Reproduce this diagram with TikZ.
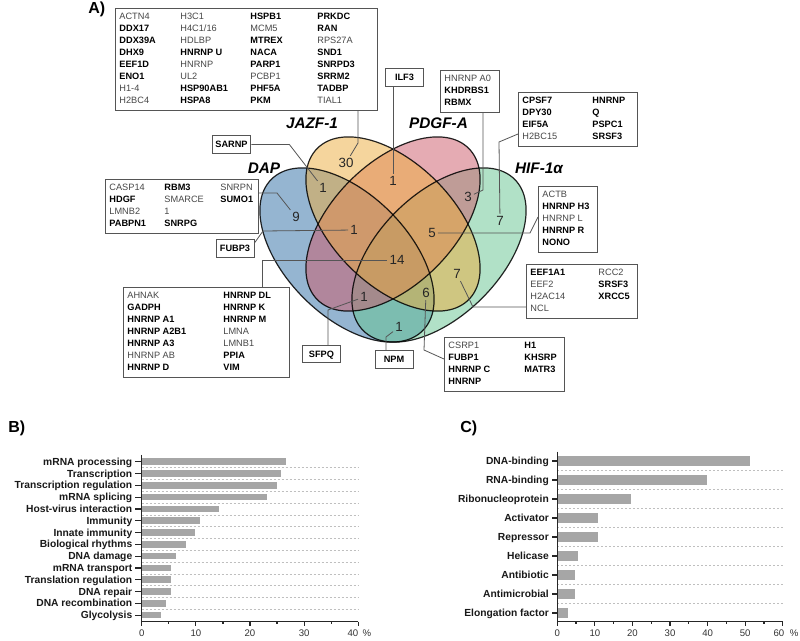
\documentclass[tikz,border=0pt]{standalone}
\usepackage{fontspec}
\setmainfont{Liberation Sans}
\usetikzlibrary{calc}

\definecolor{dapblue}{RGB}{45,109,165}
\definecolor{hifgreen}{RGB}{101,197,145}
\definecolor{pdgfpink}{RGB}{205,89,105}
\definecolor{jazfyel}{RGB}{237,173,61}
\definecolor{boxgray}{RGB}{85,85,85}

\newcommand{\genefont}{\fontsize{6.9}{9}\selectfont}
\newcommand{\hit}[1]{\textbf{\color{black}#1}}
\setlength{\tabcolsep}{0pt}

\tikzset{
    genes/.style =    {rectangle,
                      fill=white,
                      draw=boxgray,
                      text=black!72,
                      line width=0.7pt,
                      font=\genefont,
                      anchor=north west,
                      inner xsep=3pt,
                      inner ysep=2.2pt},
    tag/.style =      {rectangle,
                      fill=white,
                      draw=boxgray,
                      text=black,
                      line width=0.7pt,
                      font=\genefont\bfseries,
                      minimum width=28.5pt,
                      minimum height=13pt,
                      inner xsep=2.5pt,
                      text height=5pt,
                      text depth=0pt},
    num/.style =      {text=black!85,
                      font=\fontsize{10}{12}\selectfont,
                      inner sep=1.5pt,
                      text height=7.2pt,
                      text depth=0pt},
    setname/.style =  {font=\fontsize{11.5}{13}\selectfont\bfseries\itshape,
                      anchor=base,
                      inner sep=0pt},
    panel/.style =    {font=\fontsize{12}{14}\selectfont\bfseries,
                      anchor=base west,
                      inner sep=0pt},
    -,
    lead/.style =     {draw=boxgray, line width=0.6pt},
    ring/.style =     {draw=black, line width=0.9pt, draw opacity=0.85},
    setfill/.style =  {fill opacity=0.5},
    barfill/.style =  {fill=black!35},
    term/.style =     {font=\fontsize{7.7}{9}\selectfont\bfseries,
                      text=black!90,
                      anchor=east,
                      inner sep=0pt,
                      text height=5.5pt,
                      text depth=0pt},
    ticklabel/.style = {font=\fontsize{7.2}{9}\selectfont,
                      text=black!80,
                      inner sep=0pt,
                      text height=5.2pt,
                      text depth=0pt},
    gridline/.style = {draw=black!25, dash pattern=on 1.5pt off 1.5pt, line width=0.4pt},
    axisline/.style = {draw=black!85, line width=0.9pt}}

\begin{document}
\begin{tikzpicture}[x=0.75pt,y=-0.75pt]
    \path[use as bounding box, fill=white] (0,0) rectangle (800,640);

    % four sets
    \fill[setfill, dapblue,  rotate around={-45:(347,255)}] (347,255) ellipse [x radius=80.25pt, y radius=45.75pt];
    \fill[setfill, hifgreen, rotate around={45:(439,255)}]  (439,255) ellipse [x radius=80.25pt, y radius=45.75pt];
    \fill[setfill, pdgfpink, rotate around={45:(393,224)}]  (393,224) ellipse [x radius=80.25pt, y radius=45.75pt];
    \fill[setfill, jazfyel,  rotate around={-45:(393,224)}] (393,224) ellipse [x radius=80.25pt, y radius=45.75pt];
    \draw[ring, rotate around={-45:(347,255)}] (347,255) ellipse [x radius=80.25pt, y radius=45.75pt];
    \draw[ring, rotate around={45:(439,255)}]  (439,255) ellipse [x radius=80.25pt, y radius=45.75pt];
    \draw[ring, rotate around={-45:(393,224)}] (393,224) ellipse [x radius=80.25pt, y radius=45.75pt];
    \draw[ring, rotate around={45:(393,224)}]  (393,224) ellipse [x radius=80.25pt, y radius=45.75pt];

    \node[setname] (dapname)  at (264,173)   {DAP};
    \node[setname] (jazfname) at (312,128)   {JAZF-1};
    \node[setname] (pdgfname) at (438.5,128) {PDGF-A};
    \node[setname] (hifname)  at (539,173)   {HIF-1α};

    \node[num] (n30) at (346,163) {30};
    \node[num] (n1a) at (323,188) {1};
    \node[num] (n1b) at (393,181) {1};
    \node[num] (n3)  at (468,197) {3};
    \node[num] (n7a) at (500,221) {7};
    \node[num] (n9)  at (296,217) {9};
    \node[num] (n1c) at (354,230) {1};
    \node[num] (n5)  at (432,233) {5};
    \node[num] (n14) at (397,260) {14};
    \node[num] (n7b) at (457,274) {7};
    \node[num] (n1d) at (364,297) {1};
    \node[num] (n6)  at (426,293) {6};
    \node[num] (n1e) at (399,327) {1};

    % protein lists
    \node[genes] (jazfbox) at (115,8) {\begin{tabular}{p{45.75pt}p{52.5pt}p{50.25pt}p{42pt}}
        ACTN4 & H3C1 & \hit{HSPB1} & \hit{PRKDC}\\
        \hit{DDX17} & H4C1/16 & MCM5 & \hit{RAN}\\
        \hit{DDX39A} & HDLBP & \hit{MTREX} & RPS27A\\
        \hit{DHX9} & \hit{HNRNP U} & \hit{NACA} & \hit{SND1}\\
        \hit{EEF1D} & HNRNP & \hit{PARP1} & \hit{SNRPD3}\\
        \hit{ENO1} & UL2 & PCBP1 & \hit{SRRM2}\\
        H1-4 & \hit{HSP90AB1} & \hit{PHF5A} & \hit{TADBP}\\
        H2BC4 & \hit{HSPA8} & \hit{PKM} & TIAL1
        \end{tabular}};
    \node[genes] (dapbox) at (105,179) {\begin{tabular}{p{41.25pt}p{42pt}p{25.5pt}}
        CASP14 & \hit{RBM3} & SNRPN\\
        \hit{HDGF} & SMARCE & \hit{SUMO1}\\
        LMNB2 & 1 & \\
        \hit{PABPN1} & \hit{SNRPG} &
        \end{tabular}};
    \node[genes] (a0box) at (440,70) {\begin{tabular}{p{38.25pt}}
        HNRNP A0\\ \hit{KHDRBS1}\\ \hit{RBMX}
        \end{tabular}};
    \node[genes] (cpsfbox) at (518,92) {\begin{tabular}{p{52.5pt}p{30.75pt}}
        \hit{CPSF7} & \hit{HNRNP}\\
        \hit{DPY30} & \hit{Q}\\
        \hit{EIF5A} & \hit{PSPC1}\\
        H2BC15 & \hit{SRSF3}
        \end{tabular}};
    \node[genes] (actbbox) at (538,186) {\begin{tabular}{p{38.25pt}}
        ACTB\\ \hit{HNRNP H3}\\ HNRNP L\\ \hit{HNRNP R}\\ \hit{NONO}
        \end{tabular}};
    \node[genes] (eefbox) at (526,264) {\begin{tabular}{p{51pt}p{26.25pt}}
        \hit{EEF1A1} & RCC2\\
        EEF2 & \hit{SRSF3}\\
        H2AC14 & \hit{XRCC5}\\
        NCL &
        \end{tabular}};
    \node[genes] (ahnakbox) at (123,287) {\begin{tabular}{p{72pt}p{46.5pt}}
        AHNAK & \hit{HNRNP DL}\\
        \hit{GADPH} & \hit{HNRNP K}\\
        \hit{HNRNP A1} & \hit{HNRNP M}\\
        \hit{HNRNP A2B1} & LMNA\\
        \hit{HNRNP A3} & LMNB1\\
        HNRNP AB & \hit{PPIA}\\
        \hit{HNRNP D} & \hit{VIM}
        \end{tabular}};
    \node[genes] (csrpbox) at (444,337) {\begin{tabular}{p{57pt}p{27pt}}
        CSRP1 & \hit{H1}\\
        \hit{FUBP1} & \hit{KHSRP}\\
        \hit{HNRNP C} & \hit{MATR3}\\
        \hit{HNRNP} &
        \end{tabular}};

    \node[tag] (sarnp) at (231.5,144.5) {SARNP};
    \node[tag] (ilf3)  at (404.5,77.5)  {ILF3};
    \node[tag] (fubp3) at (235,248.5)   {FUBP3};
    \node[tag] (sfpq)  at (321.5,354)   {SFPQ};
    \node[tag] (npm)   at (394,359.5)   {NPM};

    \draw[lead] (358,0 |- jazfbox.south) -- (358,143) -- (n30);
    \draw[lead] (393,0 |- ilf3.south) -- (n1b);
    \draw[lead] (sarnp.east) -- ++(38,0) -- (n1a);
    \draw[lead] (483,0 |- a0box.south) -- (483,190) -- (n3);
    \draw[lead] (cpsfbox.west |- 0,134) -- (499,142) -- (n7a);
    \draw[lead] (dapbox.east |- 0,193) -- (277,193) -- (n9);
    \draw[lead] (fubp3.east |- 0,243) -- (263,231) -- (n1c);
    \draw[lead] (actbbox.west |- 0,217) -- (530,233) -- (n5);
    \draw[lead] (eefbox.west |- 0,307) -- (473,307) -- (n7b);
    \draw[lead] (262,0 |- ahnakbox.north) -- (262,260) -- (n14);
    \draw[lead] (328,0 |- sfpq.north) -- (328,310) -- (n1d);
    \draw[lead] (386,0 |- npm.north) -- (386,337) -- (n1e);
    \draw[lead] (csrpbox.west |- 0,359) -- (424,350) -- (n6);

    \node[panel] (pa) at (88,13)  {A)};
    \node[panel] (pb) at (8,432)  {B)};
    \node[panel] (pc) at (460,432) {C)};

    % B) biological process
    \begin{scope}[shift={(141.7,461.7)}, x=4.061pt, y=-8.85pt]
        \draw[gridline] (0,.5) -- (40,.5)   (0,1.5) -- (40,1.5)   (0,2.5) -- (40,2.5)
                        (0,3.5) -- (40,3.5) (0,4.5) -- (40,4.5)   (0,5.5) -- (40,5.5)
                        (0,6.5) -- (40,6.5) (0,7.5) -- (40,7.5)   (0,8.5) -- (40,8.5)
                        (0,9.5) -- (40,9.5) (0,10.5) -- (40,10.5) (0,11.5) -- (40,11.5)
                        (0,12.5) -- (40,12.5);
        \fill[barfill] (0,-.28) rectangle (26.6,.28);     \node[term] (b0)  at (-1.7,0)  {mRNA processing};
        \fill[barfill] (0,.72) rectangle (25.7,1.28);     \node[term] (b1)  at (-1.7,1)  {Transcription};
        \fill[barfill] (0,1.72) rectangle (24.9,2.28);    \node[term] (b2)  at (-1.7,2)  {Transcription regulation};
        \fill[barfill] (0,2.72) rectangle (23.1,3.28);    \node[term] (b3)  at (-1.7,3)  {mRNA splicing};
        \fill[barfill] (0,3.72) rectangle (14.3,4.28);    \node[term] (b4)  at (-1.7,4)  {Host-virus interaction};
        \fill[barfill] (0,4.72) rectangle (10.8,5.28);    \node[term] (b5)  at (-1.7,5)  {Immunity};
        \fill[barfill] (0,5.72) rectangle (9.8,6.28);     \node[term] (b6)  at (-1.7,6)  {Innate immunity};
        \fill[barfill] (0,6.72) rectangle (8.1,7.28);     \node[term] (b7)  at (-1.7,7)  {Biological rhythms};
        \fill[barfill] (0,7.72) rectangle (6.3,8.28);     \node[term] (b8)  at (-1.7,8)  {DNA damage};
        \fill[barfill] (0,8.72) rectangle (5.4,9.28);     \node[term] (b9)  at (-1.7,9)  {mRNA transport};
        \fill[barfill] (0,9.72) rectangle (5.4,10.28);    \node[term] (b10) at (-1.7,10) {Translation regulation};
        \fill[barfill] (0,10.72) rectangle (5.4,11.28);   \node[term] (b11) at (-1.7,11) {DNA repair};
        \fill[barfill] (0,11.72) rectangle (4.5,12.28);   \node[term] (b12) at (-1.7,12) {DNA recombination};
        \fill[barfill] (0,12.72) rectangle (3.6,13.28);   \node[term] (b13) at (-1.7,13) {Glycolysis};
        \draw[axisline] (0,-.57) -- (0,13.56) -- (40,13.56);
        \draw[axisline] (0,0) -- (-1.24,0) (0,1) -- (-1.24,1) (0,2) -- (-1.24,2) (0,3) -- (-1.24,3)
                        (0,4) -- (-1.24,4) (0,5) -- (-1.24,5) (0,6) -- (-1.24,6) (0,7) -- (-1.24,7)
                        (0,8) -- (-1.24,8) (0,9) -- (-1.24,9) (0,10) -- (-1.24,10) (0,11) -- (-1.24,11)
                        (0,12) -- (-1.24,12) (0,13) -- (-1.24,13);
        \draw[axisline] (0,13.56) -- (0,13.9) (10,13.56) -- (10,13.9) (20,13.56) -- (20,13.9)
                        (30,13.56) -- (30,13.9) (40,13.56) -- (40,13.9)
                        (5,13.56) -- (5,13.74) (15,13.56) -- (15,13.74) (25,13.56) -- (25,13.74)
                        (35,13.56) -- (35,13.74);
        \node[ticklabel] (bt0) at (0,14.52)  {0};
        \node[ticklabel] (bt1) at (10,14.52) {10};
        \node[ticklabel] (bt2) at (20,14.52) {20};
        \node[ticklabel] (bt3) at (30,14.52) {30};
        \node[ticklabel] (bt4) at (39,14.52) {40};
        \node[ticklabel] (bpc) at (41.6,14.52) {\%};
    \end{scope}

    % C) molecular function
    \begin{scope}[shift={(557.3,461)}, x=2.818pt, y=-14.25pt]
        \draw[gridline] (0,.5) -- (60,.5)   (0,1.5) -- (60,1.5) (0,2.5) -- (60,2.5)
                        (0,3.5) -- (60,3.5) (0,4.5) -- (60,4.5) (0,5.5) -- (60,5.5)
                        (0,6.5) -- (60,6.5) (0,7.5) -- (60,7.5);
        \fill[barfill] (0,-.27) rectangle (51.3,.27);    \node[term] (c0) at (-2.2,0) {DNA-binding};
        \fill[barfill] (0,.73) rectangle (39.8,1.27);    \node[term] (c1) at (-2.2,1) {RNA-binding};
        \fill[barfill] (0,1.73) rectangle (19.6,2.27);   \node[term] (c2) at (-2.2,2) {Ribonucleoprotein};
        \fill[barfill] (0,2.73) rectangle (10.7,3.27);   \node[term] (c3) at (-2.2,3) {Activator};
        \fill[barfill] (0,3.73) rectangle (10.7,4.27);   \node[term] (c4) at (-2.2,4) {Repressor};
        \fill[barfill] (0,4.73) rectangle (5.6,5.27);    \node[term] (c5) at (-2.2,5) {Helicase};
        \fill[barfill] (0,5.73) rectangle (4.7,6.27);    \node[term] (c6) at (-2.2,6) {Antibiotic};
        \fill[barfill] (0,6.73) rectangle (4.7,7.27);    \node[term] (c7) at (-2.2,7) {Antimicrobial};
        \fill[barfill] (0,7.73) rectangle (2.9,8.27);    \node[term] (c8) at (-2.2,8) {Elongation factor};
        \draw[axisline] (0,-.49) -- (0,8.46) -- (60,8.46);
        \draw[axisline] (0,0) -- (-1.4,0) (0,1) -- (-1.4,1) (0,2) -- (-1.4,2) (0,3) -- (-1.4,3)
                        (0,4) -- (-1.4,4) (0,5) -- (-1.4,5) (0,6) -- (-1.4,6) (0,7) -- (-1.4,7)
                        (0,8) -- (-1.4,8);
        \draw[axisline] (0,8.46) -- (0,8.67) (10,8.46) -- (10,8.67) (20,8.46) -- (20,8.67)
                        (30,8.46) -- (30,8.67) (40,8.46) -- (40,8.67) (50,8.46) -- (50,8.67)
                        (60,8.46) -- (60,8.67)
                        (5,8.46) -- (5,8.57) (15,8.46) -- (15,8.57) (25,8.46) -- (25,8.57)
                        (35,8.46) -- (35,8.57) (45,8.46) -- (45,8.57) (55,8.46) -- (55,8.57);
        \node[ticklabel] (ct0) at (0,9.05)  {0};
        \node[ticklabel] (ct1) at (10,9.05) {10};
        \node[ticklabel] (ct2) at (20,9.05) {20};
        \node[ticklabel] (ct3) at (30,9.05) {30};
        \node[ticklabel] (ct4) at (40,9.05) {40};
        \node[ticklabel] (ct5) at (50,9.05) {50};
        \node[ticklabel] (ct6) at (59,9.05) {60};
        \node[ticklabel] (cpc) at (63,9.05) {\%};
    \end{scope}
\end{tikzpicture}
\end{document}
